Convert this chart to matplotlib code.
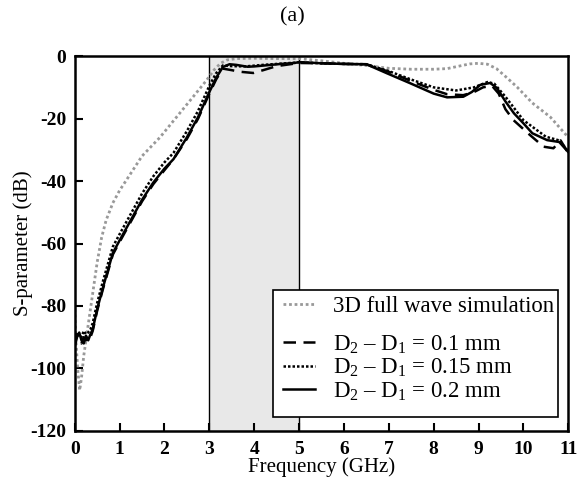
import matplotlib
matplotlib.use("Agg")
import matplotlib.pyplot as plt
from matplotlib.patches import Rectangle

# ---------------- data ----------------
f_sim = [0.0, 0.03, 0.07, 0.11, 0.15, 0.2, 0.3, 0.4, 0.5, 0.6, 0.7, 0.85, 1.0, 1.16, 1.5, 1.9,
         2.27, 2.64, 2.94, 3.1, 3.25, 3.4, 3.6, 4.0, 4.5, 5.0, 5.5, 6.0, 6.5, 7.0, 7.5, 8.0,
         8.3, 8.5, 8.8, 9.0, 9.2, 9.4, 9.6, 9.86, 10.2, 10.6, 11.0]
s_sim = [-81, -92, -101, -107, -103, -96, -86, -76, -66, -58, -52.5, -47, -43, -39.5, -32, -26,
         -19.5, -13, -7.7, -4.5, -2.3, -1.2, -0.8, -0.7, -0.8, -0.8, -1.5, -2.3, -3.0, -3.9, -4.2, -4.2,
         -4.0, -3.4, -2.5, -2.3, -2.6, -4.0, -6.5, -9.9, -15, -19.5, -26]

f_d01 = [0.0, 0.05, 0.1, 0.15, 0.2, 0.25, 0.3, 0.35, 0.4, 0.5, 0.63, 0.85, 1.0, 1.25, 1.5, 1.75,
         2.0, 2.2, 2.5, 2.75, 3.0, 3.15, 3.3, 3.5, 3.68, 3.98, 4.2, 4.5, 5.0, 5.5, 6.0, 6.5, 7.0,
         7.5, 8.0, 8.3, 8.66, 8.9, 9.1, 9.3, 9.45, 9.6, 9.78, 10.15, 10.45, 10.67, 10.83, 11.0]
s_d01 = [-92, -89, -90, -92, -90, -91, -89.5, -90, -88, -81.5, -74.5, -63.5, -59.5, -53, -46.5, -41,
         -36.5, -33, -26.5, -20, -12, -7.5, -4.0, -4.5, -5.0, -5.4, -4.5, -3.2, -2.2, -2.3, -2.5, -2.6, -5.0,
         -8.0, -10.8, -12.2, -12.5, -11.5, -10.0, -9.5, -12, -17, -20.5, -25.3, -29, -29.5, -27, -31]

f_d015 = [0.0, 0.05, 0.1, 0.15, 0.2, 0.25, 0.3, 0.35, 0.4, 0.5, 0.63, 0.85, 1.0, 1.25, 1.5, 1.75,
          2.0, 2.2, 2.5, 2.75, 3.0, 3.15, 3.3, 3.5, 3.8, 4.2, 4.6, 5.0, 5.5, 6.0, 6.5, 7.0, 7.5,
          8.0, 8.5, 8.9, 9.2, 9.35, 9.6, 10.0, 10.5, 10.8, 11.0]
s_d015 = [-91, -88.5, -89.5, -90, -88, -89, -88.5, -87.5, -85.5, -79, -72, -61, -57, -50.5, -44, -38.5,
          -34, -31, -24, -17.5, -9.5, -5.5, -3.0, -3.2, -3.3, -2.8, -2.4, -2.0, -2.3, -2.5, -2.6, -4.8, -7.5,
          -10, -11, -10, -8.3, -8.8, -13, -20.5, -25.8, -27, -30.5]

f_d02 = [0.0, 0.05, 0.1, 0.15, 0.2, 0.25, 0.3, 0.35, 0.4, 0.5, 0.63, 0.85, 1.0, 1.25, 1.5, 1.75,
         2.0, 2.2, 2.5, 2.75, 3.0, 3.15, 3.3, 3.45, 3.6, 3.85, 4.0, 4.3, 4.6, 4.9, 5.0, 5.5, 6.0, 6.5,
         6.96, 7.48, 8.0, 8.3, 8.66, 8.85, 9.04, 9.26, 9.41, 9.6, 9.79, 10.0, 10.2, 10.53, 10.8, 11.0]
s_d02 = [-93, -90, -88.5, -91, -92, -89.5, -91, -89, -87.5, -81, -74, -63, -59, -52.5, -46, -40.5,
         -36, -33, -26, -19.5, -11.5, -7, -3.5, -2.6, -2.8, -3.4, -3.3, -2.9, -2.5, -2.2, -1.9, -2.3, -2.5, -2.6,
         -5.5, -8.7, -12, -13.2, -13, -11.5, -9.2, -8.6, -10.2, -14.5, -18.3, -21.5, -24.7, -26.9, -27.5, -30.7]

band = [3, 5]
xticks = list(range(0, 12))
yticks = [0, -20, -40, -60, -80, -100, -120]

label_sim = "3D full wave simulation"
label_01 = r"D$_2$ – D$_1$ = 0.1 mm"
label_015 = r"D$_2$ – D$_1$ = 0.15 mm"
label_02 = r"D$_2$ – D$_1$ = 0.2 mm"

# ---------------- plot ----------------
plt.rcParams['font.family'] = ['Liberation Serif', 'DejaVu Serif']
plt.rcParams['mathtext.fontset'] = 'custom'
plt.rcParams['mathtext.rm'] = 'Liberation Serif'
plt.rcParams['mathtext.it'] = 'Liberation Serif:italic'

fig = plt.figure(figsize=(5.84, 4.88), dpi=100)
ax = fig.add_axes([0.128, 0.117, 0.845, 0.768])

ax.axvspan(band[0], band[1], color='#e8e8e8', zorder=0, lw=0)
for b in band:
    ax.axvline(b, color='black', lw=1.0, zorder=1)

l_sim, = ax.plot(f_sim, s_sim, color='#999999', lw=2.0, linestyle=(0, (1, 1)), zorder=2)
l01, = ax.plot(f_d01, s_d01, color='black', lw=1.8, linestyle=(0, (5, 3)), zorder=3)
l015, = ax.plot(f_d015, s_d015, color='black', lw=1.8, linestyle=(0, (1, 0.8)), zorder=3)
l02, = ax.plot(f_d02, s_d02, color='black', lw=1.8, linestyle='-', zorder=3)

ax.set_xlim(0, 11)
ax.set_ylim(-120, 0)
ax.set_xticks(xticks)
ax.set_yticks(yticks)
ax.set_xticklabels([str(t) for t in xticks], fontweight='bold', fontsize=14)
ax.set_yticklabels([str(t) for t in yticks], fontweight='bold', fontsize=14)
ax.tick_params(direction='in', length=6, width=1.5, top=False, right=False)
ax.tick_params(axis='x', pad=7)
ax.tick_params(axis='y', pad=6)
for sp in ax.spines.values():
    sp.set_linewidth(1.8)

ax.set_xlabel("Frequency (GHz)", fontsize=15)
ax.set_ylabel("S-parameter (dB)", fontsize=15)
ax.xaxis.set_label_coords(0.5, -0.071)
ax.yaxis.set_label_coords(-0.085, 0.5)
fig.text(0.5, 0.966, "(a)", ha='center', va='center', fontsize=16)

# legend frame
frame = Rectangle((0.402, 0.037), 0.578, 0.339, transform=ax.transAxes,
                  facecolor='white', edgecolor='black', lw=1.2, zorder=5)
ax.add_patch(frame)
leg1 = ax.legend([l_sim], [label_sim], loc='center left', bbox_to_anchor=(0.422, 0.333),
                 frameon=False, fontsize=16.4, handlelength=1.4, handletextpad=0.8,
                 borderaxespad=0.0, borderpad=0.0)
leg1.set_zorder(6)
ax.add_artist(leg1)
leg2 = ax.legend([l01, l015, l02], [label_01, label_015, label_02], loc='center left',
                 bbox_to_anchor=(0.422, 0.168), frameon=False, fontsize=16.4,
                 handlelength=1.4, handletextpad=0.8, labelspacing=0.05,
                 borderaxespad=0.0, borderpad=0.0)
leg2.set_zorder(6)

fig.savefig("out.png", dpi=100)
